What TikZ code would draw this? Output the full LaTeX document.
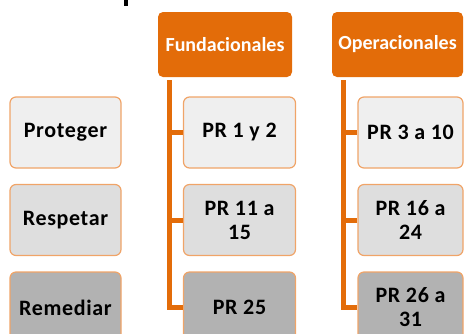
\documentclass[tikz,border=0pt]{standalone}
\usepackage{fontspec}
\setmainfont{Carlito}
\newfontfamily\boxfont[LetterSpace=3]{Carlito}
\definecolor{orng}{HTML}{E36C09}
\definecolor{bord}{HTML}{F0A468}
\definecolor{fillA}{HTML}{EFEFEF}
\definecolor{fillB}{HTML}{DEDEDE}
\definecolor{fillC}{HTML}{B2B2B2}
\tikzset{
  head/.style={rectangle, rounded corners=5pt, fill=orng, text=white, font=\bfseries\fontsize{20}{24}\selectfont, inner sep=0pt},
  item/.style={rectangle, rounded corners=6pt, draw=bord, line width=1.2pt, font=\boxfont\bfseries\fontsize{22}{24}\selectfont, align=center, inner sep=0pt, minimum height=71pt},
  link/.style={draw=orng, line width=5pt},
}
\begin{document}
\begin{tikzpicture}[x=1pt,y=-1pt]
\useasboundingbox (0,0) rectangle (465,333);
\clip (0,0) rectangle (465,333);
\fill[black] (124,0) rectangle (127.5,6);
\node[head, minimum width=134pt, minimum height=65pt] (fund) at (225,44.5) {Fundacionales};
\node[head, minimum width=131pt, minimum height=65pt] (oper) at (397.5,44.5) {Operacionales};
% left column
\node[item, fill=fillA, minimum width=111pt] (l1) at (65.5,132.5) {Proteger};
\node[item, fill=fillB, minimum width=111pt] (l2) at (65.5,220) {Respetar};
\node[item, fill=fillC, minimum width=111pt] (l3) at (65.5,307.5) {Remediar};
% middle column
\node[item, fill=fillA, minimum width=112pt] (m1) at (239.5,132.5) {PR 1 y 2};
\node[item, fill=fillB, minimum width=112pt] (m2) at (239.5,220) {PR 11 a\\15};
\node[item, fill=fillC, minimum width=112pt] (m3) at (239.5,307.5) {PR 25};
% right column
\node[item, fill=fillA, minimum width=105pt] (r1) at (410.5,132.5) {PR 3 a 10};
\node[item, fill=fillB, minimum width=105pt] (r2) at (410.5,220) {PR 16 a\\24};
\node[item, fill=fillC, minimum width=105pt] (r3) at (410.5,307.5) {PR 26 a\\31};
% connectors
\coordinate (ft) at ([xshift=12pt,yshift=-3pt]fund.south west);
\coordinate (ot) at ([xshift=12pt,yshift=-3pt]oper.south west);
\draw[link] (ft) |- (m3.west);
\draw[link] (ft |- m1.west) -- (m1.west);
\draw[link] (ft |- m2.west) -- (m2.west);
\draw[link] (ot) |- (r3.west);
\draw[link] (ot |- r1.west) -- (r1.west);
\draw[link] (ot |- r2.west) -- (r2.west);
\end{tikzpicture}
\end{document}
